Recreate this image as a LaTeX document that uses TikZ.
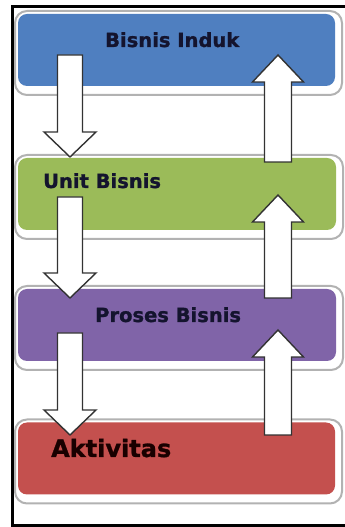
\documentclass[tikz,border=0pt]{standalone}
\usepackage{fontspec}
\setmainfont{DejaVu Sans}[BoldFeatures={FakeBold=1.2}]
\usetikzlibrary{calc}
\definecolor{cblue}{HTML}{4F7FC0}
\definecolor{cgreen}{HTML}{9BBB59}
\definecolor{cpurple}{HTML}{8064A8}
\definecolor{cred}{HTML}{C4504E}
\definecolor{ctext}{HTML}{14142E}
\tikzset{
  box/.style={fill=#1, rounded corners=9pt, inner sep=0pt, outer sep=0pt},
  ring/.style={draw=black!30, line width=2pt, fill=white, rounded corners=12pt},
  lbl/.style={font=\bfseries\fontsize{19.5}{20}\selectfont, text=ctext, anchor=base west, inner sep=0pt},
  blockarrow/.style={draw=black!80, line width=1.4pt, fill=white, line join=miter},
}
\newcommand\downblock[2]{%
  \draw[blockarrow] let \p1=(#1), \p2=(#2) in
  (\x1-12.5pt,\y1) -- (\x1-12.5pt,\y2+25pt) -- (\x1-26pt,\y2+25pt) -- (\x2,\y2)
  -- (\x1+26pt,\y2+25pt) -- (\x1+12.5pt,\y2+25pt) -- (\x1+12.5pt,\y1) -- cycle;}
\newcommand\upblock[2]{%
  \draw[blockarrow] let \p1=(#1), \p2=(#2) in
  (\x1-13.5pt,\y1) -- (\x1-13.5pt,\y2-27pt) -- (\x1-25.5pt,\y2-27pt) -- (\x2,\y2)
  -- (\x1+25.5pt,\y2-27pt) -- (\x1+13.5pt,\y2-27pt) -- (\x1+13.5pt,\y1) -- cycle;}
\newcommand\colbox[5]{% name, colour, centre x, centre y, width, (height fixed by #5)
  \path (#3,#4) coordinate (#1c);
  \draw[ring] ($(#1c)+(-0.5*#5pt-3pt,36pt+3pt)$) rectangle ($(#1c)+(0.5*#5pt+7pt,-36pt-9pt)$);
  \node[box=#2, minimum width=#5, minimum height=72] (#1) at (#1c) {};}
\begin{document}
\begin{tikzpicture}[x=1pt,y=1pt]
\useasboundingbox (0,0) rectangle (345,527);
% boxes
\colbox{bi}{cblue}{176.5}{477}{317}
\colbox{ub}{cgreen}{177}{333}{318}
\colbox{pb}{cpurple}{177}{202}{318}
\colbox{ak}{cred}{176.5}{68.5}{317}
% labels
\node[lbl] (tbi) at (105,480) {Bisnis Induk};
\node[lbl] (tub) at (43,339) {Unit Bisnis};
\node[lbl] (tpb) at (95,205) {Proses Bisnis};
\node[lbl, font=\bfseries\fontsize{24}{25}\selectfont, text=black!90!red] (tak) at (51,70) {Aktivitas};
% arrow end points
\coordinate (d1s) at (70,472); \coordinate (d1e) at (70,370);
\coordinate (d2s) at (70,330); \coordinate (d2e) at (70,229);
\coordinate (d3s) at (70,194); \coordinate (d3e) at (70,92);
\coordinate (u1s) at (278,365); \coordinate (u1e) at (278,472);
\coordinate (u2s) at (278,229); \coordinate (u2e) at (278,332);
\coordinate (u3s) at (278,92);  \coordinate (u3e) at (278,197);
\downblock{d1s}{d1e}
\downblock{d2s}{d2e}
\downblock{d3s}{d3e}
\upblock{u1s}{u1e}
\upblock{u2s}{u2e}
\upblock{u3s}{u3e}
% frame
\draw[line width=3pt] (350,520.5) -- (12.5,520.5) -- (12.5,1.5) -- (350,1.5);
\end{tikzpicture}
\end{document}
